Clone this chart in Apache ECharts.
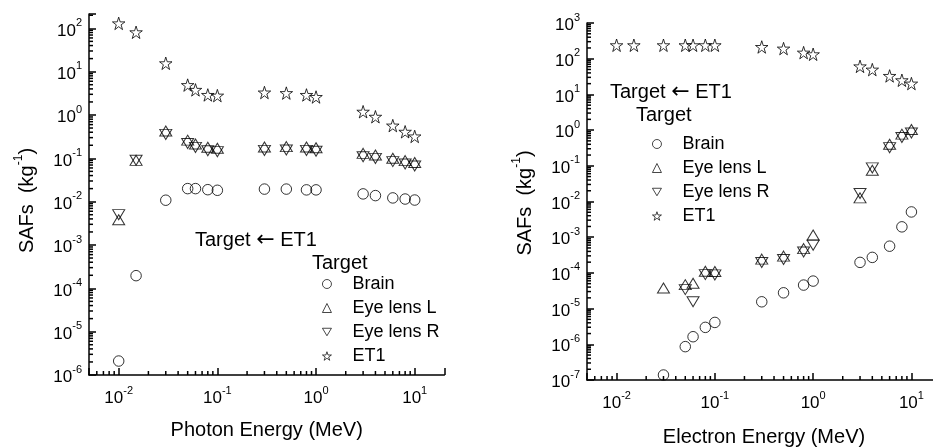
<!DOCTYPE html>
<html><head><meta charset="utf-8">
<script src="https://cdn.jsdelivr.net/npm/echarts@6/dist/echarts.min.js"></script>
<style>html,body{margin:0;padding:0;background:#fff}#c{width:933px;height:447px}</style>
</head><body><div id="c"></div>
<script>
// ---- data ----
const energies = [0.01, 0.015, 0.03, 0.05, 0.06, 0.08, 0.1, 0.3, 0.5, 0.8, 1, 3, 4, 6, 8, 10];
// Photon (left panel)
const photonBrain = [2.1e-6, 1.96e-4, 0.0108, 0.020, 0.020, 0.0189, 0.0183, 0.0195, 0.0195, 0.0187, 0.0187, 0.0151, 0.0138, 0.0122, 0.0115, 0.0109];
const photonEyeL  = [0.0035, 0.082, 0.39, 0.24, 0.196, 0.164, 0.156, 0.167, 0.17, 0.167, 0.16, 0.119, 0.109, 0.092, 0.081, 0.073];
const photonEyeR  = [0.0055, 0.099, 0.39, 0.24, 0.196, 0.164, 0.156, 0.167, 0.17, 0.167, 0.16, 0.119, 0.109, 0.092, 0.081, 0.073];
const photonET1   = [130, 81, 15.6, 4.9, 3.8, 2.9, 2.8, 3.3, 3.2, 2.9, 2.6, 1.19, 0.91, 0.57, 0.41, 0.32];
// Electron (right panel)
const electronBrain = [null, null, 1.38e-7, 8.6e-7, 1.63e-6, 2.98e-6, 4.1e-6, 1.55e-5, 2.77e-5, 4.56e-5, 5.9e-5, 1.97e-4, 2.72e-4, 5.6e-4, 1.95e-3, 5.1e-3];
const electronEyeL  = [null, null, 3.4e-5, 4.2e-5, 4.6e-5, 1.0e-4, 9.8e-5, 2.18e-4, 2.65e-4, 4.3e-4, 1.03e-3, 0.01135, 0.0676, 0.36, 0.69, 0.93];
const electronEyeR  = [null, null, null, 3.8e-5, 1.73e-5, 1.0e-4, 9.8e-5, 2.18e-4, 2.65e-4, 4.3e-4, 6.7e-4, 0.01875, 0.0975, 0.36, 0.69, 0.93];
const electronET1   = [238, 238, 238, 238, 238, 238, 238, 213, 192, 148, 133, 61, 49.5, 32.9, 24.9, 20.1];
const seriesNames = ['Brain', 'Eye lens L', 'Eye lens R', 'ET1'];
const xTitles = ['Photon Energy (MeV)', 'Electron Energy (MeV)'];
const yTitle = 'SAFs  (kg';
const annotationParts = ['Target ', '\u2190', ' ET1'];
const legendTitle = 'Target';

// ---- chart ----
const FONT = "'Liberation Sans', Arial, Helvetica, sans-serif";
const STAR = 'path://M50 0 L61.23 34.55 L97.55 34.55 L68.16 55.9 L79.39 90.45 L50 69.1 L20.61 90.45 L31.84 55.9 L2.45 34.55 L38.77 34.55 Z';
const DOWN = 'path://M0 0 L12 0 L6 10 Z';
const XR = [0.005, 20];
const YR = [[1e-6, 214], [1e-7, 1000]];

function pairs(xs, ys) { const o = []; xs.forEach((x, i) => { if (ys[i] != null) o.push([x, ys[i]]); }); return o; }
function isPow10(v) { const l = Math.log10(v); return Math.abs(l - Math.round(l)) < 1e-6; }
function logLabel(v) { if (!isPow10(v)) return ''; return '{b|10}{s|' + Math.round(Math.log10(v)) + '}'; }
const labelRich = {
  b: { fontSize: 17, fontFamily: FONT, color: '#000', lineHeight: 22, verticalAlign: 'bottom' },
  s: { fontSize: 11, fontFamily: FONT, color: '#000', lineHeight: 12, verticalAlign: 'top' }
};
function minorVals(lo, hi) {
  const o = [];
  for (let e = Math.floor(Math.log10(lo)); e <= Math.ceil(Math.log10(hi)); e++)
    for (let m = 2; m <= 9; m++) { const v = m * Math.pow(10, e); if (v > lo * 1.0001 && v < hi * 0.9999) o.push(v); }
  return o;
}
const axisLine = { show: true, onZero: false, lineStyle: { color: '#000', width: 1.5 } };
const axisTick = { show: true, inside: true, length: 7, lineStyle: { color: '#000', width: 1.5 } };

const grids = [
  { left: 89, top: 14, width: 355.4, height: 361, outerBoundsMode: 'none', containLabel: false },
  { left: 587, top: 23, width: 354, height: 357, outerBoundsMode: 'none', containLabel: false }
];
const xAxes = [0, 1].map(g => ({
  type: 'log', logBase: 10, gridIndex: g, min: XR[0], max: XR[1],
  name: xTitles[g], nameLocation: 'middle', nameGap: g === 0 ? 45 : 47,
  nameTextStyle: { fontSize: 20, fontFamily: FONT, color: '#000' },
  axisLine, axisTick, splitLine: { show: false }, minorTick: { show: false },
  axisLabel: { formatter: logLabel, margin: 10, rich: labelRich, hideOverlap: false }
}));
const yAxes = [0, 1].map(g => ({
  type: 'log', logBase: 10, gridIndex: g, min: YR[g][0], max: YR[g][1], interval: 1,
  name: '{a|' + yTitle + '}{s|-1}{a|)}', nameLocation: 'middle', nameGap: 52,
  nameTextStyle: { padding: g === 0 ? [0, 12, 0, 0] : [0, 3, 0, 0], rich: {
    a: { fontSize: 20, fontFamily: FONT, color: '#000', lineHeight: 24, verticalAlign: 'bottom' },
    s: { fontSize: 12, fontFamily: FONT, color: '#000', lineHeight: 13, verticalAlign: 'top' } } },
  axisLine, axisTick, splitLine: { show: false }, minorTick: { show: false },
  axisLabel: { formatter: logLabel, margin: 7, rich: labelRich, hideOverlap: false }
}));

const markerStyle = { color: 'rgba(255,255,255,0)', borderColor: '#000', borderWidth: 1 };
const sym = [
  { symbol: 'circle', symbolSize: 10.5, symbolOffset: [0, 0] },
  { symbol: 'triangle', symbolSize: [12, 10], symbolOffset: [0, -1.7] },
  { symbol: DOWN, symbolSize: [12, 10], symbolOffset: [0, 1.7] },
  { symbol: STAR, symbolSize: 12.5, symbolOffset: [0, 0] }
];
const panelData = [
  [photonBrain, photonEyeL, photonEyeR, photonET1],
  [electronBrain, electronEyeL, electronEyeR, electronET1]
];
const series = [];
[0, 1].forEach(g => {
  panelData[g].forEach((arr, k) => {
    series.push(Object.assign({
      type: 'scatter', name: seriesNames[k], xAxisIndex: g, yAxisIndex: g,
      data: pairs(energies, arr), itemStyle: markerStyle, silent: true, z: 5
    }, sym[k]));
  });
  series.push({
    type: 'custom', xAxisIndex: g, yAxisIndex: g, silent: true, z: 3,
    data: minorVals(XR[0], XR[1]).map(v => [v, YR[g][0]]),
    renderItem: (p, api) => { const c = api.coord([api.value(0), api.value(1)]);
      return { type: 'line', shape: { x1: c[0], y1: c[1], x2: c[0], y2: c[1] - 4 }, style: { stroke: '#000', lineWidth: 1.5 } }; }
  });
  series.push({
    type: 'custom', xAxisIndex: g, yAxisIndex: g, silent: true, z: 3,
    data: minorVals(YR[g][0], YR[g][1]).map(v => [XR[0], v]),
    renderItem: (p, api) => { const c = api.coord([api.value(0), api.value(1)]);
      return { type: 'line', shape: { x1: c[0], y1: c[1], x2: c[0] + 4, y2: c[1] }, style: { stroke: '#000', lineWidth: 1.5 } }; }
  });
});

const legendIcons = ['circle', 'triangle', DOWN, STAR];
const legendBase = {
  orient: 'vertical', itemWidth: 9, itemHeight: 9, itemGap: 6, padding: 0,
  selectedMode: false,
  itemStyle: { color: 'rgba(255,255,255,0)', borderColor: '#000', borderWidth: 0.9 },
  textStyle: { fontSize: 18, fontFamily: FONT, color: '#000', padding: [0, 0, 0, 16] },
  data: seriesNames.map((n, k) => ({ name: n, icon: legendIcons[k] }))
};
const legends = [
  Object.assign({}, legendBase, { left: 322, top: 275 }),
  Object.assign({}, legendBase, { left: 652, top: 135 })
];

const annRich = {
  a: { fontSize: 20, fontFamily: FONT, color: '#000' },
  r: { fontSize: 22, fontFamily: "'DejaVu Sans', sans-serif", color: '#000' }
};
const annText = (x, y) => ({ type: 'text', x, y, style: {
  text: '{a|' + annotationParts[0] + '}{r|' + annotationParts[1] + '}{a|' + annotationParts[2] + '}',
  rich: annRich, verticalAlign: 'middle' } });
const txt = (x, y, t) => ({ type: 'text', x, y, style: { text: t, fontSize: 20, fontFamily: FONT, fill: '#000', verticalAlign: 'middle' } });

const chart = echarts.init(document.getElementById('c'));
chart.setOption({
  animation: false,
  backgroundColor: '#fff',
  grid: grids, xAxis: xAxes, yAxis: yAxes, series,
  legend: legends,
  graphic: [annText(195, 240), txt(312, 263, legendTitle), annText(610, 92), txt(636, 115, legendTitle)]
});
</script></body></html>
